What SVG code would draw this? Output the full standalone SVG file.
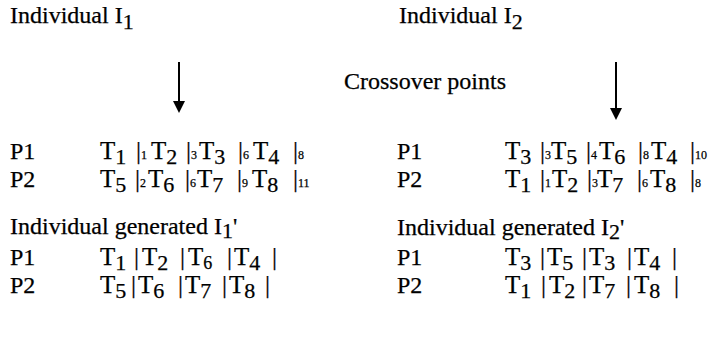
<svg xmlns="http://www.w3.org/2000/svg" width="718" height="340" viewBox="0 0 718 340">
<style>
text{font-family:"Liberation Serif","Times New Roman",serif;fill:#000;stroke:#000;stroke-width:0.25}
.l{font-size:24px}
.t{font-size:25px}
.s{font-size:22px}
.b{font-size:25px}
.bs{font-size:12px}
.g{font-size:18px}
.ar{stroke:#000;stroke-width:2}
</style>
<rect width="718" height="340" fill="#fff"/>
<g id="labels">
<text class="l" x="10" y="23">Individual I<tspan class="s" dy="6">1</tspan></text>
<text class="l" x="399" y="23">Individual I<tspan class="s" dy="6">2</tspan></text>
<text class="l" x="344" y="89">Crossover points</text>
</g>
<g id="connectors">
<line class="ar" x1="179" y1="62" x2="179" y2="102"/>
<polygon points="173,101 185,101 179,113" fill="#000"/>
<line class="ar" x1="616" y1="62" x2="616" y2="109"/>
<polygon points="610,108 622,108 616,120" fill="#000"/>
</g>
<g id="i1">
<text class="l" x="10" y="159">P1</text>
<text class="t" x="100" y="159">T<tspan class="s" dy="5">1</tspan></text>
<text class="b" x="136" y="159">|<tspan class="bs">1</tspan></text>
<text class="t" x="151" y="159">T<tspan class="s" dy="5">2</tspan></text>
<text class="b" x="186" y="159">|<tspan class="bs">3</tspan></text>
<text class="t" x="199" y="159">T<tspan class="s" dy="5">3</tspan></text>
<text class="b" x="238" y="159">|<tspan class="bs">6</tspan></text>
<text class="t" x="253" y="159">T<tspan class="s" dy="5">4</tspan></text>
<text class="b" x="293" y="159">|<tspan class="bs">8</tspan></text>
<text class="l" x="10" y="187">P2</text>
<text class="t" x="100" y="187">T<tspan class="s" dy="5">5</tspan></text>
<text class="b" x="135" y="187">|<tspan class="bs">2</tspan></text>
<text class="t" x="148" y="187">T<tspan class="s" dy="5">6</tspan></text>
<text class="b" x="185" y="187">|<tspan class="bs">6</tspan></text>
<text class="t" x="197" y="187">T<tspan class="s" dy="5">7</tspan></text>
<text class="b" x="237" y="187">|<tspan class="bs">9</tspan></text>
<text class="t" x="252" y="187">T<tspan class="s" dy="5">8</tspan></text>
<text class="b" x="293" y="187">|<tspan class="bs">11</tspan></text>
</g>
<g id="i2">
<text class="l" x="397" y="159">P1</text>
<text class="t" x="505" y="159">T<tspan class="s" dy="5">3</tspan></text>
<text class="b" x="540" y="159">|<tspan class="bs">3</tspan></text>
<text class="t" x="551" y="159">T<tspan class="s" dy="5">5</tspan></text>
<text class="b" x="586" y="159">|<tspan class="bs">4</tspan></text>
<text class="t" x="599" y="159">T<tspan class="s" dy="5">6</tspan></text>
<text class="b" x="638" y="159">|<tspan class="bs">8</tspan></text>
<text class="t" x="651" y="159">T<tspan class="s" dy="5">4</tspan></text>
<text class="b" x="690" y="159">|<tspan class="bs">10</tspan></text>
<text class="l" x="397" y="187">P2</text>
<text class="t" x="505" y="187">T<tspan class="s" dy="5">1</tspan></text>
<text class="b" x="540" y="187">|<tspan class="bs">1</tspan></text>
<text class="t" x="552" y="187">T<tspan class="s" dy="5">2</tspan></text>
<text class="b" x="587" y="187">|<tspan class="bs">3</tspan></text>
<text class="t" x="597" y="187">T<tspan class="s" dy="5">7</tspan></text>
<text class="b" x="637" y="187">|<tspan class="bs">6</tspan></text>
<text class="t" x="650" y="187">T<tspan class="s" dy="5">8</tspan></text>
<text class="b" x="690" y="187">|<tspan class="bs">8</tspan></text>
</g>
<g id="i1p">
<text class="l" x="10" y="234">Individual generated I<tspan class="s" dy="4">1</tspan><tspan dy="-4">'</tspan></text>
<text class="l" x="10" y="265">P1</text>
<text class="t" x="100" y="265">T<tspan class="s" dy="5">1</tspan></text>
<text class="b" x="134" y="265">|</text>
<text class="t" x="142" y="265">T<tspan class="s" dy="5">2</tspan></text>
<text class="b" x="180" y="265">|</text>
<text class="t" x="188" y="265">T<tspan class="g" dy="4">6</tspan></text>
<text class="b" x="227" y="265">|</text>
<text class="t" x="234" y="265">T<tspan class="s" dy="5">4</tspan></text>
<text class="b" x="272" y="265">|</text>
<text class="l" x="10" y="293">P2</text>
<text class="t" x="100" y="293">T<tspan class="s" dy="5">5</tspan></text>
<text class="b" x="131" y="293">|</text>
<text class="t" x="138" y="293">T<tspan class="s" dy="5">6</tspan></text>
<text class="b" x="178" y="293">|</text>
<text class="t" x="185" y="293">T<tspan class="s" dy="5">7</tspan></text>
<text class="b" x="222" y="293">|</text>
<text class="t" x="229" y="293">T<tspan class="s" dy="5">8</tspan></text>
<text class="b" x="265" y="293">|</text>
</g>
<g id="i2p">
<text class="l" x="397" y="235">Individual generated I<tspan class="s" dy="4">2</tspan><tspan dy="-4">'</tspan></text>
<text class="l" x="397" y="265">P1</text>
<text class="t" x="505" y="265">T<tspan class="s" dy="5">3</tspan></text>
<text class="b" x="540" y="265">|</text>
<text class="t" x="547" y="265">T<tspan class="s" dy="5">5</tspan></text>
<text class="b" x="582" y="265">|</text>
<text class="t" x="589" y="265">T<tspan class="s" dy="5">3</tspan></text>
<text class="b" x="627" y="265">|</text>
<text class="t" x="634" y="265">T<tspan class="s" dy="5">4</tspan></text>
<text class="b" x="672" y="265">|</text>
<text class="l" x="397" y="293">P2</text>
<text class="t" x="505" y="293">T<tspan class="s" dy="5">1</tspan></text>
<text class="b" x="541" y="293">|</text>
<text class="t" x="549" y="293">T<tspan class="s" dy="5">2</tspan></text>
<text class="b" x="582" y="293">|</text>
<text class="t" x="589" y="293">T<tspan class="s" dy="5">7</tspan></text>
<text class="b" x="626" y="293">|</text>
<text class="t" x="634" y="293">T<tspan class="s" dy="5">8</tspan></text>
<text class="b" x="674" y="293">|</text>
</g>
</svg>
